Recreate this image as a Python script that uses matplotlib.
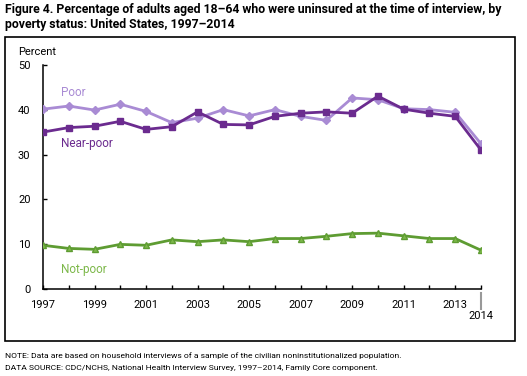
import matplotlib

matplotlib.use("Agg")
import matplotlib.pyplot as plt
from matplotlib.patches import Rectangle
import matplotlib.transforms as mtransforms

plt.rcParams["font.family"] = ["Roboto", "DejaVu Sans"]

# Data
years = list(range(1997, 2015))
poor = [40.1, 40.8, 39.9, 41.2, 39.6, 37.1, 38.1, 40.0, 38.6, 40.0,
        38.5, 37.6, 42.6, 42.2, 40.2, 40.0, 39.4, 32.4]
near_poor = [35.0, 36.0, 36.3, 37.4, 35.6, 36.2, 39.5, 36.7, 36.6, 38.5,
             39.2, 39.5, 39.2, 43.0, 40.1, 39.2, 38.5, 31.0]
not_poor = [9.8, 9.1, 8.9, 10.0, 9.8, 11.0, 10.6, 11.0, 10.6, 11.3,
            11.3, 11.8, 12.4, 12.5, 11.9, 11.3, 11.3, 8.7]
y_ticks = [0, 10, 20, 30, 40, 50]
x_labels = [1997, 1999, 2001, 2003, 2005, 2007, 2009, 2011, 2013]

POOR_C = "#a98bd4"
NEAR_C = "#6b2b8f"
NOT_C = "#5e9c32"
NOT_MARK = "#7db84a"

fig = plt.figure(figsize=(5.27, 3.76), dpi=100)
ax = fig.add_axes([43 / 527, 1 - 289.3 / 376, 438 / 527, 224.6 / 376])

ax.plot(years, poor, color=POOR_C, lw=2, marker="D", ms=4,
        mfc=POOR_C, mec=POOR_C, zorder=3)
ax.plot(years, near_poor, color=NEAR_C, lw=2, marker="s", ms=5,
        mfc=NEAR_C, mec=NEAR_C, zorder=4)
ax.plot(years, not_poor, color=NOT_C, lw=2, marker="^", ms=5,
        mfc=NOT_MARK, mec=NOT_C, zorder=3)

ax.text(1997.7, 43.8, "Poor", color=POOR_C, fontsize=8.5, va="center")
ax.text(1997.7, 32.5, "Near-poor", color=NEAR_C, fontsize=8.5, va="center")
ax.text(1997.7, 4.3, "Not-poor", color=NOT_MARK, fontsize=8.5, va="center")

ax.set_xlim(1997, 2014)
ax.set_ylim(0, 50)
ax.set_yticks(y_ticks)
ax.set_xticks(years)
ax.set_xticklabels([str(y) if y in x_labels else "" for y in years])
ax.tick_params(direction="in", length=3, width=1, labelsize=8)
ax.tick_params(axis="y", pad=9)
ax.tick_params(axis="x", pad=8)
for s in ["top", "right"]:
    ax.spines[s].set_visible(False)
for s in ["left", "bottom"]:
    ax.spines[s].set_linewidth(1.1)

# 2014 label set lower with a gray connector
trans = mtransforms.blended_transform_factory(ax.transData, ax.transAxes)
ax.plot([2014, 2014], [-0.016, -0.088], color="#999999", lw=1.5,
        transform=trans, clip_on=False)
ax.text(2014, -0.119, "2014", transform=trans, ha="center", va="center",
        fontsize=8)

fig.text(18 / 527, 1 - 51.7 / 376, "Percent", fontsize=8, va="center")

# frame around the chart
fig.patches.append(Rectangle((4.7 / 527, 1 - 341 / 376), 510.3 / 527, 304 / 376,
                             transform=fig.transFigure, fill=False,
                             edgecolor="black", lw=1.2))

fig.text(5 / 527, 1 - 3 / 376,
         "Figure 4. Percentage of adults aged 18\u201364 who were uninsured at the time of interview, by\n"
         "poverty status: United States, 1997\u20132014",
         fontsize=8.8, fontweight="bold", va="top", linespacing=1.2)

fig.text(5 / 527, 1 - 356 / 376,
         "NOTE: Data are based on household interviews of a sample of the civilian noninstitutionalized population.",
         fontsize=6.1, va="center")
fig.text(5 / 527, 1 - 368 / 376,
         "DATA SOURCE: CDC/NCHS, National Health Interview Survey, 1997\u20132014, Family Core component.",
         fontsize=6.1, va="center")

fig.savefig("out.png", dpi=100)
